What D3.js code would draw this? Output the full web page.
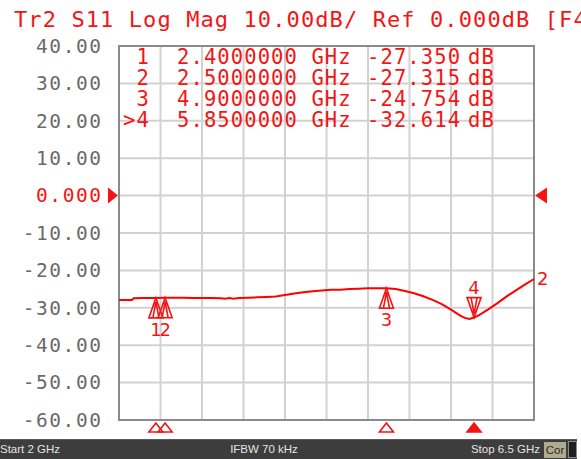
<!DOCTYPE html>
<html><head><meta charset="utf-8">
<script src="https://cdn.jsdelivr.net/npm/d3@7/dist/d3.min.js"></script>
<style>html,body{margin:0;padding:0;background:#fff;overflow:hidden}</style>
</head><body>
<script>
// ---- data ----
const titleText = "Tr2 S11 Log Mag 10.00dB/ Ref 0.000dB [F4";
const yTicks = [40, 30, 20, 10, 0, -10, -20, -30, -40, -50, -60];
const freqStart = 2, freqStop = 6.5, xDivisions = 10;
const freqGHz = [2.00,2.08,2.14,2.16,2.25,2.40,2.50,2.60,2.70,2.80,2.90,3.00,3.10,3.15,3.20,3.24,3.30,3.40,3.50,3.60,3.70,3.80,3.90,4.00,4.10,4.20,4.30,4.40,4.50,4.60,4.70,4.80,4.90,5.00,5.10,5.20,5.30,5.40,5.50,5.60,5.70,5.75,5.80,5.85,5.90,6.00,6.10,6.20,6.30,6.40,6.50];
const s11dB   = [-27.9,-27.9,-27.9,-27.45,-27.4,-27.35,-27.32,-27.3,-27.3,-27.35,-27.4,-27.4,-27.45,-27.6,-27.4,-27.55,-27.4,-27.3,-27.2,-27.1,-26.95,-26.6,-26.2,-25.85,-25.55,-25.35,-25.2,-25.15,-25.0,-24.9,-24.8,-24.75,-24.75,-25.0,-25.5,-26.1,-26.9,-27.9,-29.0,-30.5,-32.1,-32.7,-33.0,-32.6,-32.0,-30.5,-28.8,-27.0,-25.4,-23.8,-22.3];
const markerIds    = ["1", "2", "3", "4"];
const markerFreqs  = [2.4, 2.5, 4.9, 5.85];
const markerValues = [-27.350, -27.315, -24.754, -32.614];
const activeMarker = "4";
const footerTexts = ["Start 2 GHz", "IFBW 70 kHz", "Stop 6.5 GHz", "Cor"];

// ---- layout ----
const W = 581, H = 459;
const L = 119, R = 534, T = 46, B = 420;
const red = "#f41414";
const mono = "'DejaVu Sans Mono', monospace";
const svg = d3.select("body").append("svg").attr("width", W).attr("height", H)
  .style("font-family", mono);

const x = d3.scaleLinear().domain([freqStart, freqStop]).range([L, R]);
const y = d3.scaleLinear().domain([-60, 40]).range([B, T]);

// title
svg.append("text").attr("x", 14).attr("y", 27).attr("fill", red)
  .style("font-size", "22px").style("letter-spacing", "1.1px").text(titleText);

// grid
const xGrid = d3.range(xDivisions + 1).map(i => freqStart + i * (freqStop - freqStart) / xDivisions);
svg.append("g").selectAll("line").data(xGrid).join("line")
  .attr("x1", d => x(d)).attr("x2", d => x(d)).attr("y1", T).attr("y2", B)
  .attr("stroke", "#d2d2d2").attr("stroke-width", 2);
svg.append("g").selectAll("line").data(yTicks).join("line")
  .attr("x1", L).attr("x2", R).attr("y1", d => y(d)).attr("y2", d => y(d))
  .attr("stroke", "#d2d2d2").attr("stroke-width", 2);
svg.append("rect").attr("x", L).attr("y", T).attr("width", R - L).attr("height", B - T)
  .attr("fill", "none").attr("stroke", "#8a8a8a").attr("stroke-width", 2);

// y axis labels
const yAxis = d3.axisLeft(y).tickValues(yTicks).tickSize(0).tickPadding(16.5)
  .tickFormat(d => d === 0 ? "0.000" : d.toFixed(2));
const ga = svg.append("g").attr("transform", `translate(${L},0)`).call(yAxis);
ga.select(".domain").remove();
ga.selectAll("text").style("font-family", mono)
  .style("font-size", "19.5px").style("letter-spacing", "1.55px")
  .attr("fill", d => d === 0 ? red : "#6a6a6a");

// reference pointers
svg.append("path").attr("d", `M${L-11},${y(0)-8} L${L-1},${y(0)} L${L-11},${y(0)+8} Z`).attr("fill", red);
svg.append("path").attr("d", `M${R+13},${y(0)-8} L${R+1},${y(0)} L${R+13},${y(0)+8} Z`).attr("fill", red);

// marker table
const rowY = [64, 85, 106, 127];
const tbl = svg.append("g").attr("fill", red).style("font-size", "20.5px").style("letter-spacing", "1.1px");
markerIds.forEach((id, i) => {
  tbl.append("text").attr("x", 150).attr("y", rowY[i]).attr("text-anchor", "end")
    .text((id === activeMarker ? ">" : "") + id);
  tbl.append("text").attr("x", 177).attr("y", rowY[i]).text(markerFreqs[i].toFixed(7) + " GHz");
  tbl.append("text").attr("x", 367).attr("y", rowY[i]).text(markerValues[i].toFixed(3));
  tbl.append("text").attr("x", 468).attr("y", rowY[i]).text("dB");
});

// trace
const pts = freqGHz.map((f, i) => [f, s11dB[i]]);
svg.append("path").datum(pts)
  .attr("d", d3.line().x(d => x(d[0])).y(d => y(d[1])))
  .attr("fill", "none").attr("stroke", "#ff0000").attr("stroke-width", 2);
svg.append("text").attr("x", R + 3).attr("y", y(s11dB[s11dB.length - 1]) + 6)
  .attr("fill", red).style("font-family", "'DejaVu Sans', sans-serif").style("font-size", "18px").text("2");

// markers on trace
const mg = svg.append("g");
markerIds.forEach((id, i) => {
  const mx = x(markerFreqs[i]), my = y(markerValues[i]);
  const h = 20, w = 7;
  if (id === activeMarker) {
    mg.append("path").attr("d", `M${mx},${my} L${mx-w},${my-h} L${mx+w},${my-h} Z M${mx-3},${my-h} L${mx},${my-4} L${mx+3},${my-h}`)
      .attr("fill", "none").attr("stroke", red).attr("stroke-width", 1.6);
    mg.append("text").attr("x", mx).attr("y", my - h - 4).attr("text-anchor", "middle")
      .attr("fill", red).style("font-family", "'DejaVu Sans', sans-serif").style("font-size", "18px").text(id);
  } else {
    mg.append("path").attr("d", `M${mx},${my} L${mx-w},${my+h} L${mx+w},${my+h} Z M${mx-3},${my+h} L${mx},${my+4} L${mx+3},${my+h}`)
      .attr("fill", "none").attr("stroke", red).attr("stroke-width", 1.6);
    mg.append("text").attr("x", mx).attr("y", my + h + 18).attr("text-anchor", "middle")
      .attr("fill", red).style("font-family", "'DejaVu Sans', sans-serif").style("font-size", "18px").text(id);
  }
  // bottom stimulus triangles
  const by = B + 3;
  mg.append("path").attr("d", `M${mx},${by} L${mx-7},${by+9} L${mx+7},${by+9} Z`)
    .attr("fill", id === activeMarker ? red : "none").attr("stroke", red).attr("stroke-width", 1.6);
});

// footer bar
svg.append("rect").attr("x", 0).attr("y", 439).attr("width", W).attr("height", 20).attr("fill", "#3d3d3d");
svg.append("line").attr("x1", 0).attr("x2", W).attr("y1", 439.5).attr("y2", 439.5).attr("stroke", "#5a5a5a");
const ft = svg.append("g").style("font-family", "'Liberation Sans', sans-serif").style("font-size", "11.5px").attr("fill", "#e4e4e4");
ft.append("text").attr("x", 0).attr("y", 453).text(footerTexts[0]);
ft.append("text").attr("x", 264).attr("y", 453).attr("text-anchor", "middle").text(footerTexts[1]);
ft.append("text").attr("x", 540).attr("y", 453).attr("text-anchor", "end").text(footerTexts[2]);
svg.append("rect").attr("x", 544).attr("y", 442).attr("width", 22).attr("height", 16).attr("fill", "#b2aa8c");
svg.append("text").attr("x", 555).attr("y", 454).attr("text-anchor", "middle")
  .style("font-family", "'Liberation Sans', sans-serif").style("font-size", "11.5px").attr("fill", "#2a2a2a").text(footerTexts[3]);
svg.append("rect").attr("x", 568.5).attr("y", 441.5).attr("width", 8).attr("height", 16).attr("fill", "#1e1e1e").attr("stroke", "#8a8a8a");
svg.append("rect").attr("x", 577).attr("y", 439).attr("width", 4).attr("height", 20).attr("fill", "#fff");
</script>
</body></html>
